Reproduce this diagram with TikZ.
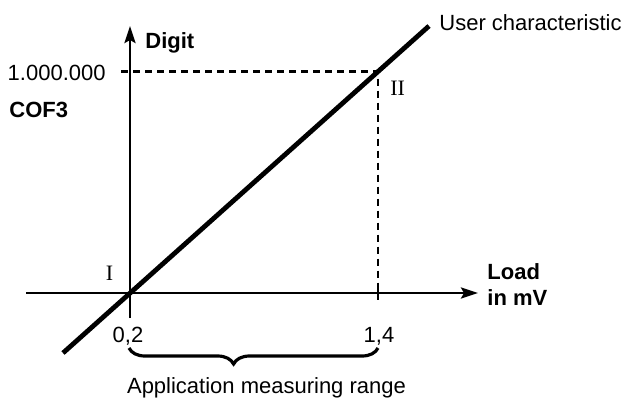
\documentclass[tikz,border=0pt]{standalone}
\usepackage{fontspec}
\setmainfont{Liberation Sans}
\newfontfamily\romfont{Liberation Serif}
\usetikzlibrary{arrows.meta,decorations.pathreplacing}
\tikzset{chart/.style={x=0.5pt,y=-0.5pt,font=\fontsize{11}{13}\selectfont},
  axisline/.style={line width=1.4pt,-{Stealth[length=8.5pt,width=5.5pt,inset=1.5pt]}},
  guide/.style={line width=1.4pt,dash pattern=on 3.5pt off 2.5pt},
  lbl/.style={inner sep=0pt}}

\begin{document}
\begin{tikzpicture}[chart]
    \useasboundingbox (0,0) rectangle (624,401);
    \coordinate (O) at (130,293);
    \coordinate (xstart) at (26,293);
    \coordinate (xend) at (478,293);
    \coordinate (ybot) at (130,318);
    \coordinate (ytop) at (130,26);
    \coordinate (lo) at (63,353);
    \coordinate (hi) at (429,26);
    \coordinate (P2) at (378,71.5);
    \coordinate (yguide) at (121,71.5);
    \coordinate (xguide) at (378,287);
    \coordinate (xtick) at (378,300);
    \coordinate (brl) at (129,348);
    \coordinate (brr) at (378,348);
    \draw[axisline] (xstart) -- (xend);
    \draw[axisline] (ybot) -- (ytop);
    \draw[guide] (yguide) -- (P2) -- (xguide);
    \draw[line width=1.4pt] (xguide) -- (xtick);
    \draw[line width=2.4pt] (lo) -- (hi);
    \draw[line width=1.6pt,decorate,decoration={brace,mirror,amplitude=8pt,aspect=0.42}] (brl) -- (brr);
    \node[lbl,anchor=base west,font=\fontsize{11}{13}\selectfont\bfseries] (digit) at (145,49) {Digit};
    \node[lbl,anchor=base east] (ymax) at (106,80) {1.000.000};
    \node[lbl,anchor=base west,font=\fontsize{11}{13}\selectfont\bfseries] (cof) at (9,117) {COF3};
    \node[lbl,anchor=base west] (user) at (439,31) {User characteristic};
    \node[lbl,anchor=base west,font=\fontsize{11}{13}\selectfont\romfont] (two) at (390,95) {II};
    \node[lbl,anchor=base,font=\fontsize{11}{13}\selectfont\romfont] (one) at (109.5,280) {I};
    \node[lbl,anchor=base] (xmin) at (128,342) {0,2};
    \node[lbl,anchor=base] (xmax) at (379,342) {1,4};
    \node[lbl,anchor=base west,align=left,font=\fontsize{11}{13}\selectfont\bfseries] (load) at (487,305) {Load\\in mV};
    \node[lbl,anchor=base] (range) at (266.5,393) {Application measuring range};
\end{tikzpicture}
\end{document}
